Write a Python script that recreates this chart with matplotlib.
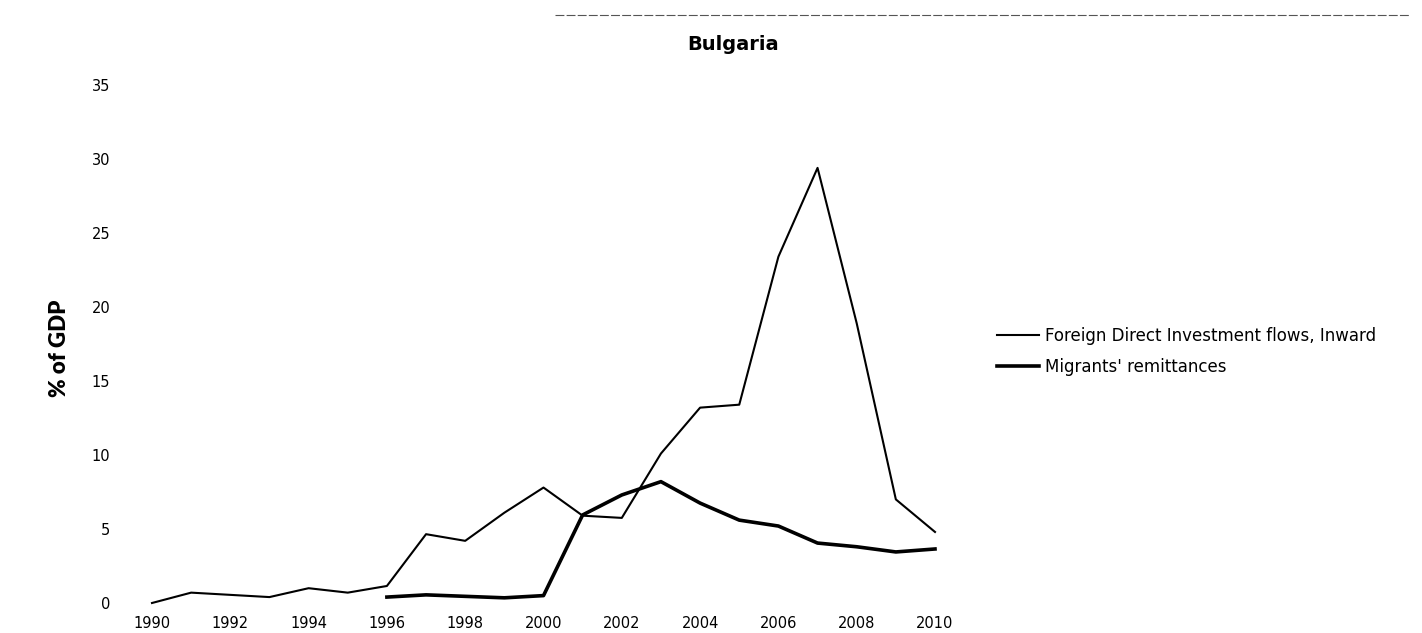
import matplotlib
matplotlib.use("Agg")
import matplotlib.pyplot as plt
from matplotlib.lines import Line2D

# values (% of GDP)
years = list(range(1990, 2011))
fdi = [0.0, 0.7, 0.55, 0.4, 1.0, 0.7, 1.15, 4.65, 4.2, 6.1, 7.8,
       5.9, 5.75, 10.1, 13.2, 13.4, 23.4, 29.4, 18.9, 7.0, 4.8]
rem_years = list(range(1996, 2011))
remittances = [0.4, 0.55, 0.45, 0.35, 0.5, 5.95, 7.3, 8.2, 6.75, 5.6,
               5.2, 4.05, 3.8, 3.45, 3.65]
ytick_vals = [0, 5, 10, 15, 20, 25, 30, 35]
xtick_vals = list(range(1990, 2011, 2))

plt.rcParams['font.family'] = ['DejaVu Sans']

fig = plt.figure(figsize=(14.22, 6.33), dpi=100)
ax = fig.add_axes([152 / 1422, 30 / 633, (935 - 152) / 1422, 518 / 633])

ax.plot(years, fdi, color='black', linewidth=1.5, clip_on=False,
        label="Foreign Direct Investment flows, Inward")
ax.plot(rem_years, remittances, color='black', linewidth=2.6, clip_on=False,
        label="Migrants' remittances")

ax.set_xlim(1990, 2010)
ax.set_ylim(0, 35)
ax.set_xticks(xtick_vals)
ax.set_yticks(ytick_vals)
ax.tick_params(axis='both', length=0, labelsize=10.5)
ax.tick_params(axis='y', pad=30)
ax.tick_params(axis='x', pad=9)
for s in ax.spines.values():
    s.set_visible(False)

ax.set_ylabel("% of GDP", fontsize=16, fontweight='heavy', family=['Lato', 'DejaVu Sans'])
ax.yaxis.set_label_coords((70 - 152) / 783, (633 - 348 - 30) / 518)

fig.text(733 / 1422, 1 - 45 / 633, "Bulgaria", ha='center', va='center',
         fontsize=14, fontweight='bold')

ax.legend(loc='upper left', bbox_to_anchor=(997 / 1422, 1 - 327 / 633),
          bbox_transform=fig.transFigure, frameon=False, fontsize=12,
          borderpad=0, borderaxespad=0,
          handlelength=2.5, handletextpad=0.4, labelspacing=0.75)

# faint scan line along the top edge
fig.add_artist(Line2D([555 / 1422, 1410 / 1422], [1 - 15 / 633, 1 - 15 / 633],
                      color='#555555', linewidth=0.8, linestyle=(0, (8, 2))))

fig.savefig("out.png", dpi=100, facecolor='white')
